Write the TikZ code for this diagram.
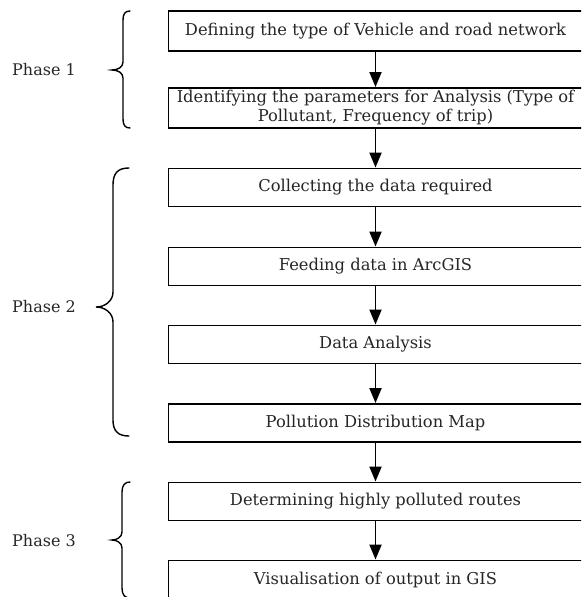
\documentclass[tikz,border=0pt]{standalone}
\usepackage{fontspec}
\setmainfont{DejaVu Serif}
\usetikzlibrary{arrows.meta}
\begin{document}
\begin{tikzpicture}[x=1pt,y=-1pt,
  box/.style={draw, line width=1.9pt, minimum width=414pt, minimum height=38pt, inner sep=0pt, align=center, text=black!85, font=\fontsize{16.3}{19}\selectfont},
  arr/.style={-{Triangle[length=15pt,width=12pt]}, line width=1.9pt},
  brace/.style={line width=1.4pt, line cap=round},
  phase/.style={anchor=west, inner sep=0pt, text=black!85, font=\fontsize{16}{19}\selectfont}]
\useasboundingbox (0,0) rectangle (581,597);
\clip (0,0) rectangle (581,597);
\fill[white] (0,0) rectangle (581,597);
\node[box, minimum height=40pt] (b1) at (375.5,31) {Defining the type of Vehicle and road network};
\node[box, minimum height=40pt] (b2) at (375.5,108) {Identifying the parameters for Analysis (Type of\\ Pollutant, Frequency of trip)};
\node[box] (b3) at (375.5,187.5) {Collecting the data required};
\node[box] (b4) at (375.5,266.5) {Feeding data in ArcGIS};
\node[box] (b5) at (375.5,344.5) {Data Analysis};
\node[box] (b6) at (375.5,423) {Pollution Distribution Map};
\node[box] (b7) at (375.5,501.5) {Determining highly polluted routes};
\node[box] (b8) at (375.5,579.5) {Visualisation of output in GIS};
\draw[arr] (b1) -- (b2);
\draw[arr] (b2) -- (b3);
\draw[arr] (b3) -- (b4);
\draw[arr] (b4) -- (b5);
\draw[arr] (b5) -- (b6);
\draw[arr] (b6) -- (b7);
\draw[arr] (b7) -- (b8);
\node[phase] (p1) at (12,70) {Phase 1};
\node[phase] (p2) at (12,307) {Phase 2};
\node[phase] (p3) at (12,541) {Phase 3};
\draw[brace] (130,11) .. controls (125,11) and (123,14) .. (123,20) -- (123,62) .. controls (123,67) and (118,70) .. (112,70) .. controls (118,70) and (123,73) .. (123,78) -- (123,119) .. controls (123,125) and (125,128) .. (130,128);
\draw[brace] (129,168) .. controls (118,168) and (113,173) .. (113,185) -- (113,292) .. controls (113,301) and (105,307) .. (96,307) .. controls (105,307) and (113,313) .. (113,322) -- (113,420) .. controls (113,431) and (118,436) .. (129,436);
\draw[brace] (130,482) .. controls (125,482) and (122,485) .. (122,492) -- (122,532) .. controls (122,537) and (117,540) .. (112,540) .. controls (117,540) and (122,543) .. (122,548) -- (122,588) .. controls (122,595) and (125,598) .. (130,598);
\end{tikzpicture}
\end{document}
